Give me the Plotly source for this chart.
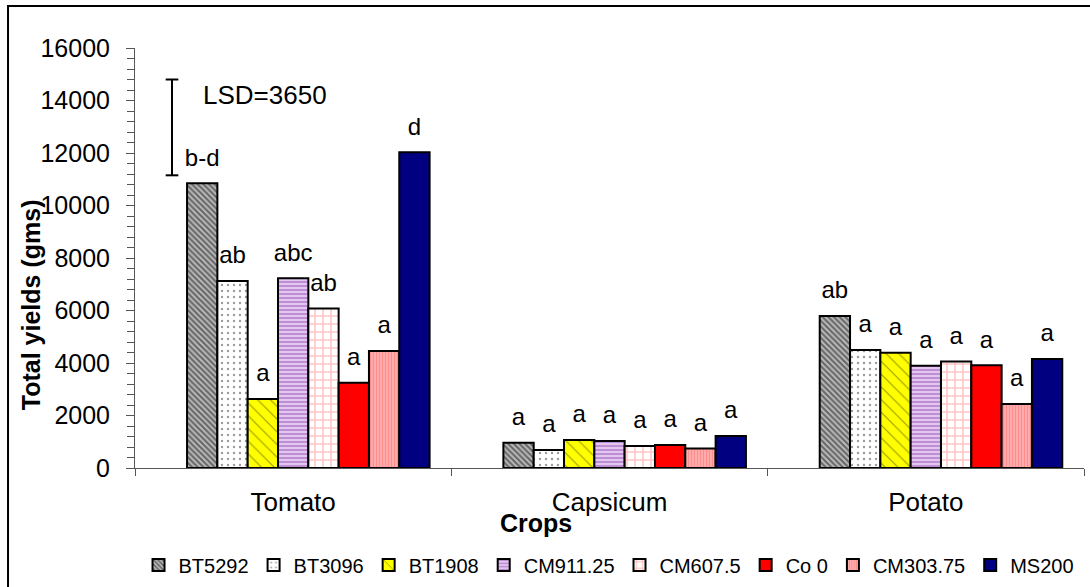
import plotly.graph_objects as go

crops = ["Tomato", "Capsicum", "Potato"]
series = ["BT5292", "BT3096", "BT1908", "CM911.25", "CM607.5", "Co 0", "CM303.75", "MS200"]

bt5292 = [10850, 960, 5790]
bt3096 = [7120, 690, 4500]
bt1908 = [2630, 1070, 4390]
cm911 = [7230, 1030, 3900]
cm607 = [6080, 840, 4060]
co0 = [3250, 880, 3910]
cm303 = [4460, 740, 2440]
ms200 = [12030, 1220, 4150]
values = [bt5292, bt3096, bt1908, cm911, cm607, co0, cm303, ms200]

letters = [
    ["b-d", "a", "ab"],
    ["ab", "a", "a"],
    ["a", "a", "a"],
    ["abc", "a", "a"],
    ["ab", "a", "a"],
    ["a", "a", "a"],
    ["a", "a", "a"],
    ["d", "a", "a"],
]

LSD = 3650
LSD_TOP = 14800

FONT = "Liberation Sans, Arial, sans-serif"

styles = [
    dict(color="white", pattern=dict(shape="\\", fgcolor="#111111", bgcolor="#c0c0c0", size=4, solidity=0.55)),
    dict(color="white", pattern=dict(shape=".", fgcolor="#333333", bgcolor="white", size=6, solidity=0.12)),
    dict(color="#ffff00", pattern=dict(shape="\\", fgcolor="#333300", bgcolor="#ffff00", size=9, solidity=0.12)),
    dict(color="#c080d8", pattern=dict(shape="-", fgcolor="#9a55b8", bgcolor="#e2c6f0", size=4, solidity=0.5)),
    dict(color="white", pattern=dict(shape="+", fgcolor="#ff8a8a", bgcolor="white", size=8, solidity=0.35)),
    dict(color="#ff0000"),
    dict(color="#ff8c8c", pattern=dict(shape="|", fgcolor="#ff6a6a", bgcolor="#ffb0b0", size=3, solidity=0.45)),
    dict(color="#000080"),
]

fig = go.Figure()

# empty leading slot (the original chart reserves one empty series slot per group)
fig.add_trace(go.Bar(x=crops, y=[0, 0, 0], showlegend=False, hoverinfo="skip",
                     marker=dict(color="rgba(0,0,0,0)", line=dict(width=0))))
for name, vals, st in zip(series, values, styles):
    fig.add_trace(go.Bar(x=crops, y=vals, name=name,
                         marker=dict(**st, line=dict(color="black", width=2)),
                         hoverinfo="skip"))

# letters as grouped scatter text
fig.add_trace(go.Scatter(x=crops, y=[0, 0, 0], mode="markers", showlegend=False, hoverinfo="skip",
                         marker=dict(color="rgba(0,0,0,0)", size=1)))
for vals, lab in zip(values, letters):
    fig.add_trace(go.Scatter(x=crops, y=vals, text=lab, mode="markers+text",
                             textposition="top center", showlegend=False, hoverinfo="skip",
                             cliponaxis=False,
                             textfont=dict(family=FONT, size=24, color="black"),
                             marker=dict(color="rgba(0,0,0,0)", size=17)))

# LSD bar
lsd_x = -0.383
cap = 0.02
fig.add_shape(type="line", xref="x", yref="y", x0=lsd_x, x1=lsd_x, y0=LSD_TOP - LSD, y1=LSD_TOP,
              line=dict(color="black", width=2))
fig.add_shape(type="line", xref="x", yref="y", x0=lsd_x - cap, x1=lsd_x + cap, y0=LSD_TOP, y1=LSD_TOP,
              line=dict(color="black", width=2))
fig.add_shape(type="line", xref="x", yref="y", x0=lsd_x - cap, x1=lsd_x + cap, y0=LSD_TOP - LSD, y1=LSD_TOP - LSD,
              line=dict(color="black", width=2))
fig.add_annotation(x=-0.29, y=14200, xref="x", yref="y", text=f"LSD={LSD}", showarrow=False,
                   xanchor="left", yanchor="middle", font=dict(family=FONT, size=26, color="black"))

fig.add_annotation(x=0.4226, y=-0.131, xref="paper", yref="paper", text="<b>Crops</b>", showarrow=False,
                   xanchor="center", yanchor="middle", font=dict(family=FONT, size=25, color="black"))

fig.add_annotation(x=-0.1096, y=0.39, xref="paper", yref="paper", text="<b>Total yields (gms)</b>",
                   showarrow=False, textangle=-90, xanchor="center", yanchor="middle",
                   font=dict(family=FONT, size=25, color="black"))

# outer border
fig.add_shape(type="rect", xref="paper", yref="paper", x0=-0.1338, x1=1.2, y0=-0.6, y1=1.1,
              line=dict(color="black", width=2), fillcolor="rgba(0,0,0,0)", layer="above")

fig.update_layout(
    width=1090, height=587,
    margin=dict(l=135, r=6, t=48, b=119, autoexpand=False),
    paper_bgcolor="white", plot_bgcolor="white",
    barmode="group", bargap=0.1374, bargroupgap=0,
    scattermode="group", scattergap=0.1374,
    font=dict(family=FONT, size=24, color="black"),
    showlegend=True,
    legend=dict(orientation="h", x=0.4995, y=-0.231, xanchor="center", yanchor="middle",
                font=dict(family=FONT, size=20, color="black"), itemwidth=30,
                traceorder="normal", bgcolor="rgba(0,0,0,0)"),
    xaxis=dict(type="category", showline=True, linecolor="#555555", linewidth=1, automargin=False,
               ticks="outside", tickson="boundaries", ticklen=7, tickcolor="#555555",
               ticklabelstandoff=11, tickfont=dict(family=FONT, size=26),
               showgrid=False, zeroline=False, range=[-0.5, 2.5]),
    yaxis=dict(range=[0, 16000], tickvals=[0, 2000, 4000, 6000, 8000, 10000, 12000, 14000, 16000],
               tickformat="d", automargin=False,
               showline=True, linecolor="#555555", linewidth=1, ticks="outside", ticklen=8,
               tickcolor="#555555", tickfont=dict(family=FONT, size=25), showgrid=False, zeroline=False,
               minor=dict(dtick=400, ticks="outside", ticklen=7, tickcolor="#555555"),
               ticklabelstandoff=11),
)

fig.write_html("out.html", config={"displayModeBar": False},
               post_script="document.body.style.margin='0px';")
